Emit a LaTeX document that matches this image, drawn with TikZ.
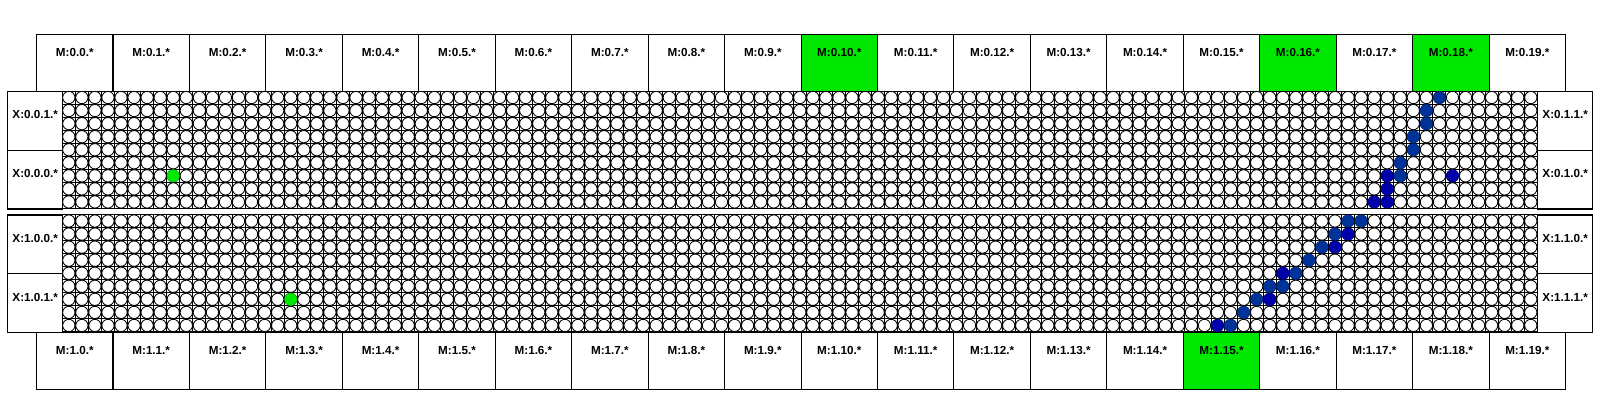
\documentclass[tikz,border=0pt]{standalone}
\usepackage{fontspec}
\setmainfont{Liberation Sans}
\usepackage{tikz}
\usetikzlibrary{positioning}

\definecolor{hotgreen}{RGB}{0,232,0}
\definecolor{steelblue}{RGB}{0,51,153}
\definecolor{deepblue}{RGB}{0,0,170}

\tikzset{
  cellbox/.style={draw, line width=0.75pt, inner sep=0pt, anchor=north west},
  mbox/.style={cellbox, minimum width=1.911cm, minimum height=1.418cm},
  xbox/.style={cellbox, minimum width=1.3825cm, minimum height=1.4681cm},
  tag/.style={font=\fontsize{8.3}{9}\selectfont\bfseries, inner sep=0pt},
  gridline/.style={line width=0.7pt},
  ring/.style={draw, fill=white, line width=0.6pt},
  dot/.style={draw=#1, fill=#1, line width=0.3pt}
}

\begin{document}
\begin{tikzpicture}[x=0.025cm, y=-0.025cm]
\useasboundingbox (0,0) rectangle (1600,400);

% memory banks, top row
\foreach \i in {0,...,19} {
  \def\tint{white}
  \ifnum\i=10 \def\tint{hotgreen}\fi
  \ifnum\i=16 \def\tint{hotgreen}\fi
  \ifnum\i=18 \def\tint{hotgreen}\fi
  \node[mbox, fill=\tint] (mt\i) at ({36+76.45*\i}, 34.3) {};
  \node[tag] (lmt\i) at ([yshift=-13.2pt]mt\i.north) {M:0.\i.*};
}
% memory banks, bottom row
\foreach \i in {0,...,19} {
  \def\tint{white}
  \ifnum\i=15 \def\tint{hotgreen}\fi
  \node[mbox, fill=\tint] (mb\i) at ({36+76.45*\i}, 332) {};
  \node[tag] (lmb\i) at ([yshift=-13.2pt]mb\i.north) {M:1.\i.*};
}

% crossbar ports
\node[xbox] (x001) at (7, 91) {};
\node[xbox] (x000) at (7, 149.73) {};
\node[xbox] (x011) at (1537, 91) {};
\node[xbox] (x010) at (1537, 149.73) {};
\node[xbox] (x100) at (7, 214.5) {};
\node[xbox] (x101) at (7, 273.23) {};
\node[xbox] (x110) at (1537, 214.5) {};
\node[xbox] (x111) at (1537, 273.23) {};
\foreach \p/\t in {x001/X:0.0.1.*, x000/X:0.0.0.*, x011/X:0.1.1.*, x010/X:0.1.0.*,
                   x100/X:1.0.0.*, x101/X:1.0.1.*, x110/X:1.1.0.*, x111/X:1.1.1.*}
  \node[tag] (l\p) at ([yshift=-17pt]\p.north) {\t};

% switch array 0
\begin{scope}[shift={(62.3,91)}, x=0.32625cm, y=-0.32625cm]
\foreach \col in {0,...,113} \draw[gridline] (\col,0) -- (\col,9);
\foreach \row in {0,...,9} \draw[gridline] (0,\row) -- (113,\row);
\foreach \row in {0,...,8}
  \draw[ring] \foreach \col in {0,...,112} {(\col+.5,\row+.5) circle (.47)};
\foreach \col/\row/\tone in {105/0/steelblue, 104/1/steelblue, 104/2/steelblue,
    103/3/steelblue, 103/4/steelblue, 102/5/steelblue, 101/6/deepblue,
    102/6/steelblue, 106/6/deepblue, 101/7/deepblue, 100/8/deepblue,
    101/8/deepblue, 8/6/hotgreen}
  \draw[dot=\tone] (\col+.5,\row+.5) circle (.47);
\end{scope}

% switch array 1
\begin{scope}[shift={(62.3,214.5)}, x=0.32625cm, y=-0.32625cm]
\foreach \col in {0,...,113} \draw[gridline] (\col,0) -- (\col,9);
\foreach \row in {0,...,9} \draw[gridline] (0,\row) -- (113,\row);
\foreach \row in {0,...,8}
  \draw[ring] \foreach \col in {0,...,112} {(\col+.5,\row+.5) circle (.47)};
\foreach \col/\row/\tone in {98/0/steelblue, 99/0/steelblue, 97/1/steelblue,
    98/1/deepblue, 96/2/steelblue, 97/2/deepblue, 95/3/steelblue,
    93/4/deepblue, 94/4/steelblue, 92/5/steelblue, 93/5/steelblue,
    91/6/steelblue, 92/6/deepblue, 90/7/steelblue, 88/8/deepblue,
    89/8/steelblue, 17/6/hotgreen}
  \draw[dot=\tone] (\col+.5,\row+.5) circle (.47);
\end{scope}
\end{tikzpicture}
\end{document}
